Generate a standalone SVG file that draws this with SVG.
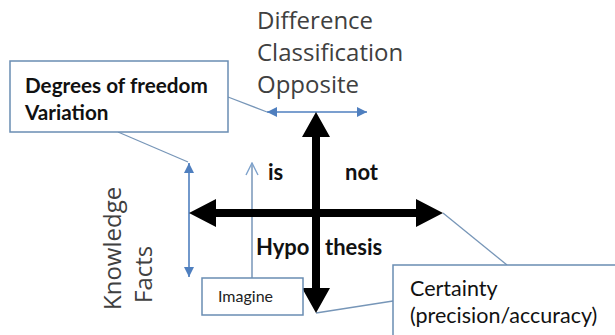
<svg xmlns="http://www.w3.org/2000/svg" width="615" height="335" viewBox="0 0 615 335">
<defs>
<style>
.box{fill:#fff;stroke:#6a8db3;stroke-width:1.5}
.con{fill:none;stroke:#7796b8;stroke-width:1.3}
.blue{fill:none;stroke:#4f7fbf;stroke-width:1.6}
.lt{font-family:"Open Sans","DejaVu Sans",sans-serif;font-size:24px;fill:#404040;font-weight:400}
.bd{font-family:Lato,"Liberation Sans",sans-serif;font-size:22px;font-weight:bold;fill:#111}
.rg{font-family:Lato,"Liberation Sans",sans-serif;font-size:22px;fill:#111}
.sm{font-family:Lato,"Liberation Sans",sans-serif;font-size:16px;fill:#222}
</style>
<marker id="bh" viewBox="0 0 10 10" refX="10" refY="5" markerWidth="10" markerHeight="10" markerUnits="userSpaceOnUse" orient="auto-start-reverse">
<path d="M0,0 L10,5 L0,10 z" fill="#4f7fbf"/>
</marker>
<marker id="oh" viewBox="0 0 14 14" refX="13" refY="7" markerWidth="14" markerHeight="14" markerUnits="userSpaceOnUse" orient="auto">
<path d="M1,1 L13,7 L1,13" fill="none" stroke="#7ea2cc" stroke-width="1.4"/>
</marker>
</defs>
<rect width="615" height="335" fill="#fff"/>
<g id="connectors">
<line class="con" x1="228" y1="97" x2="267" y2="112"/>
<line class="con" x1="118" y1="132" x2="188" y2="162"/>
<line class="con" x1="443" y1="213" x2="507" y2="265"/>
<line class="con" x1="316" y1="313" x2="393" y2="301"/>
<line class="blue" x1="267" y1="112" x2="367" y2="112" marker-start="url(#bh)" marker-end="url(#bh)"/>
<line class="blue" x1="189" y1="163" x2="189" y2="277" marker-start="url(#bh)" marker-end="url(#bh)"/>
<line x1="252" y1="278" x2="252" y2="163" stroke="#7796b8" stroke-width="1.5" marker-end="url(#oh)"/>
</g>
<g id="axes">
<path d="M312,137 L302,137 L316,112 L330,137 L320,137 L320,288 L330,288 L316,313 L302,288 L312,288 z" fill="#000"/>
<path d="M216,209 L216,199 L189,213 L216,227 L216,217 L416,217 L416,227 L443,213 L416,199 L416,209 z" fill="#000"/>
</g>
<g id="degrees">
<rect class="box" x="10" y="61" width="218" height="71"/>
<text class="bd" x="25" y="93" style="font-size:20.7px">Degrees of freedom</text>
<text class="bd" x="25" y="120" style="font-size:20.7px">Variation</text>
</g>
<g id="difference">
<text class="lt" x="257" y="29">Difference</text>
<text class="lt" x="257" y="61">Classification</text>
<text class="lt" x="257" y="93">Opposite</text>
</g>
<g id="knowledge">
<text class="lt" transform="translate(121,310) rotate(-90)">Knowledge</text>
<text class="lt" transform="translate(152,303) rotate(-90)">Facts</text>
</g>
<g id="labels">
<text class="bd" x="268" y="180">is</text>
<text class="bd" x="345" y="180">not</text>
<text class="bd" x="256" y="255">Hypo</text>
<text class="bd" x="325" y="255">thesis</text>
</g>
<g id="imagine">
<rect class="box" x="202" y="278" width="101" height="37"/>
<text class="sm" x="218" y="302">Imagine</text>
</g>
<g id="certainty">
<rect class="box" x="393" y="265" width="240" height="90"/>
<text class="rg" x="410" y="296" style="font-size:21.5px">Certainty</text>
<text class="rg" x="410" y="323" style="font-size:21.5px">(precision/accuracy)</text>
</g>
</svg>
